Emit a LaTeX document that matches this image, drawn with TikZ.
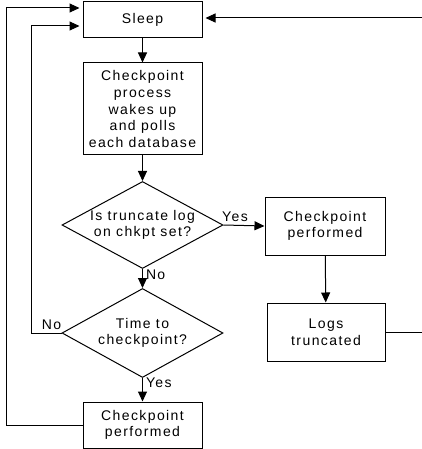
\documentclass[tikz,border=0pt]{standalone}
\usepackage{fontspec}
\setmainfont{Liberation Sans}[LetterSpace=10]
\usetikzlibrary{shapes.geometric,arrows.meta}
\begin{document}
\begin{tikzpicture}[>={Triangle[length=10pt,width=9pt]}, x=1pt, y=-1pt, line width=1pt,
		font=\fontsize{14}{16.7}\selectfont,
		box/.style={draw, rectangle, align=center, inner sep=0pt, minimum width=119pt},
		decision/.style={draw, diamond, aspect=1.85, align=center, inner sep=0pt, minimum width=161pt, minimum height=87pt},
		lbl/.style={inner sep=3pt}]
			\useasboundingbox (0,0) rectangle (422,449);
			\coordinate (rim) at (424,0);
			% left column
			\node[box, minimum height=36pt] (sleep) at (142.5,20) {Sleep};
			\node[box, minimum height=92pt] (poll) at (142.5,109) {Checkpoint\\process\\wakes up\\and polls\\each database};
			\node[decision] (trunc) at (142.5,225) {Is truncate log\\on chkpt set?};
			\node[decision, minimum height=89pt] (time) at (142.5,333) {Time to\\checkpoint?};
			\node[box, minimum height=46pt] (ckpt) at (142.5,425) {Checkpoint\\performed};
			% right column
			\node[box, minimum width=120pt, minimum height=58pt] (ckpttr) at (325,226) {Checkpoint\\performed};
			\node[box, minimum width=118pt, minimum height=58pt] (logs) at (326,332) {Logs\\truncated};
			\draw[->] (sleep) -- (poll);
			\draw[->] (poll) -- (trunc);
			\draw[->] (trunc.east) -- node[pos=0.28, above, lbl] {Yes} (ckpttr.west);
			\draw[->] (ckpttr) -- (logs);
			\draw[->] (trunc.south) -- node[pos=0.3, right, lbl] {No} (time.north);
			\draw[->] (time.south) -- node[pos=0.2, right, lbl] {Yes} (ckpt.north);
			% loops back to sleep
			\draw[->, shorten >=3pt] (time.west) -- node[pos=0.33, above, lbl] {No} ++(-30,0) |- ([yshift=-6pt]sleep.west);
			\draw[->, shorten >=3pt] (ckpt.west) -- ++(-76,0) |- ([yshift=12pt]sleep.west);
			\draw[->, shorten >=3pt] (logs.east) -- (logs.east -| rim) |- ([yshift=2pt]sleep.east);
		\end{tikzpicture}
\end{document}
